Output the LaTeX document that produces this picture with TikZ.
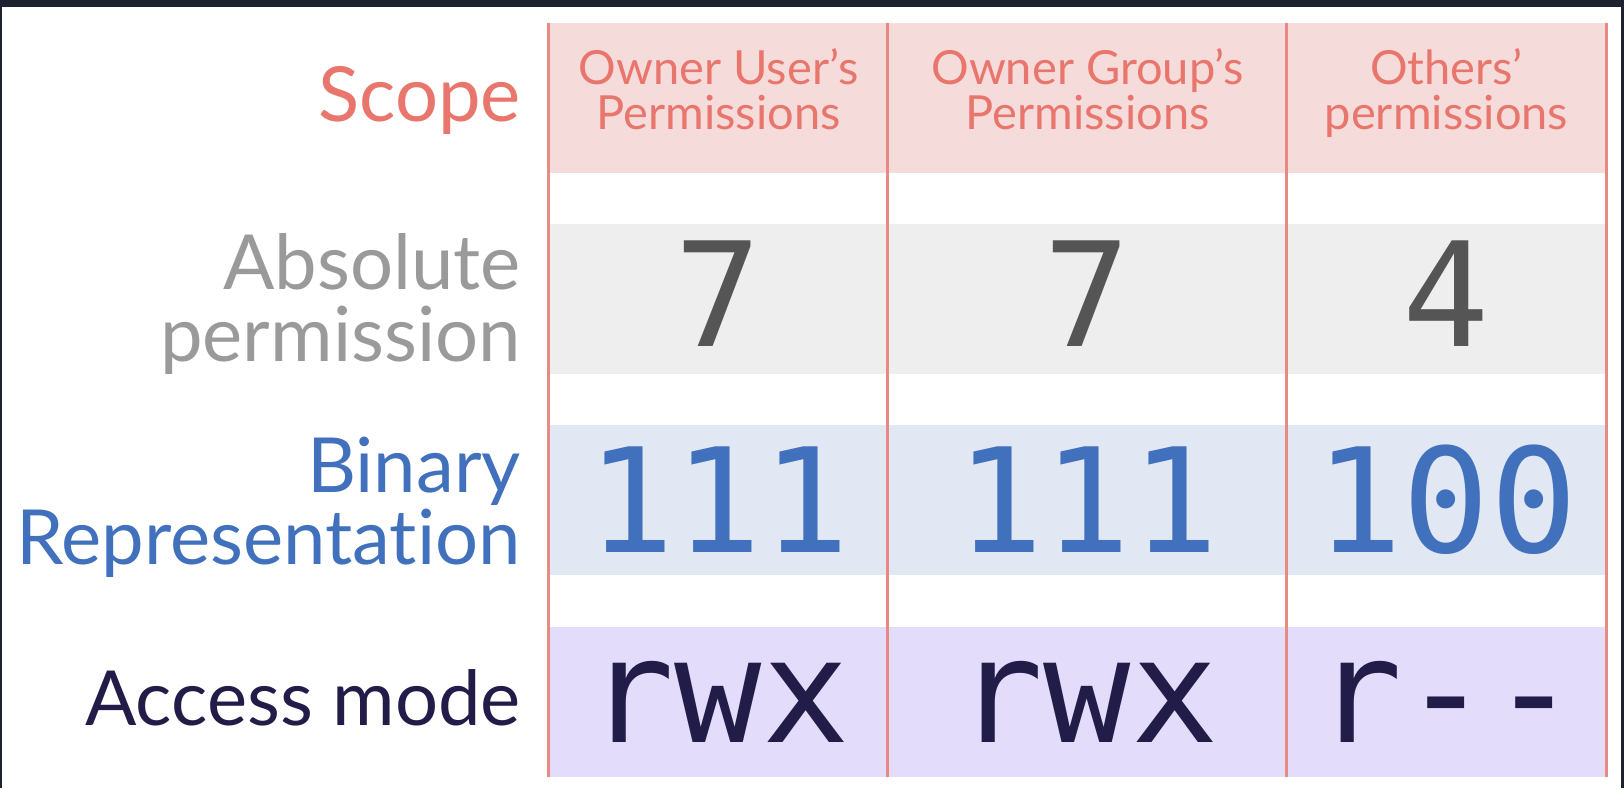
\documentclass[tikz,border=0pt]{standalone}
\usepackage{fontspec}
\setmainfont{Lato}[Ligatures=NoCommon]
\newfontfamily\codefont{DejaVu Sans Mono}
\definecolor{framedark}{HTML}{1D2130}
\definecolor{scopered}{HTML}{E8766C}
\definecolor{scopefill}{HTML}{F6DBDB}
\definecolor{gridline}{HTML}{E88A84}
\definecolor{absgray}{HTML}{9A9A9A}
\definecolor{absfill}{HTML}{EEEEEE}
\definecolor{digitgray}{HTML}{555555}
\definecolor{binblue}{HTML}{4170BD}
\definecolor{binfill}{HTML}{E1E8F4}
\definecolor{modedark}{HTML}{221D48}
\definecolor{modefill}{HTML}{E3DCFA}

\begin{document}
\begin{tikzpicture}[x=1pt,y=-1pt,
    tcell/.style={inner sep=0pt,minimum height=150pt},
    headtext/.style={text=scopered,align=center,font=\fontsize{47}{45}\selectfont},
    cellval/.style={font=\codefont\fontsize{145}{145}\selectfont},
    rowlabel/.style={anchor=east,inner sep=0pt,align=right,font=\fontsize{76}{72}\selectfont},
    sepline/.style={draw=gridline,line width=3pt}]
                    \useasboundingbox (0,0) rectangle (1624,788);
                    \fill[framedark] (0,0) rectangle (1624,788);
                    \fill[white] (2,7) rectangle (1621,788);

                    \node[tcell,headtext,minimum width=339pt,fill=scopefill] (h1) at (718.5,98) {Owner User’s\\Permissions\rule[-18pt]{0pt}{18pt}};
                    \node[tcell,headtext,minimum width=399pt,fill=scopefill] (h2) at (1087.5,98) {Owner Group’s\\Permissions\rule[-18pt]{0pt}{18pt}};
                    \node[tcell,headtext,minimum width=319pt,fill=scopefill] (h3) at (1446.5,98) {Others’\\permissions\rule[-18pt]{0pt}{18pt}};

                    \node[tcell,cellval,text=digitgray,minimum width=339pt,fill=absfill] (a1) at (718.5,299) {\raisebox{10pt}{7}};
                    \node[tcell,cellval,text=digitgray,minimum width=399pt,fill=absfill] (a2) at (1087.5,299) {\raisebox{10pt}{7}};
                    \node[tcell,cellval,text=digitgray,minimum width=319pt,fill=absfill] (a3) at (1446.5,299) {\raisebox{10pt}{4}};

                    \node[tcell,cellval,text=binblue,minimum width=339pt,fill=binfill] (b1) at (718.5,500) {111};
                    \node[tcell,cellval,text=binblue,minimum width=399pt,fill=binfill] (b2) at (1087.5,500) {111};
                    \node[tcell,cellval,text=binblue,minimum width=319pt,fill=binfill] (b3) at (1446.5,500) {100};

                    \node[tcell,cellval,text=modedark,minimum width=339pt,fill=modefill] (m1) at (718.5,702) {rwx};
                    \node[tcell,cellval,text=modedark,minimum width=399pt,fill=modefill] (m2) at (1087.5,702) {rwx};
                    \node[tcell,cellval,text=modedark,minimum width=319pt,fill=modefill] (m3) at (1446.5,702) {r-\kern0pt-};

                    \draw[sepline] (h1.north west) -- (m1.south west);
                    \draw[sepline] (h2.north west) -- (m2.south west);
                    \draw[sepline] (h3.north west) -- (m3.south west);
                    \draw[sepline] (h3.north east) -- (m3.south east);

                    \node[rowlabel,text=scopered] (lscope) at (521,100) {Scope};
                    \node[rowlabel,text=absgray] (labs) at (521,304) {Absolute\\permission};
                    \node[rowlabel,text=binblue] (lbin) at (521,507) {Binary\\Representation};
                    \node[rowlabel,text=modedark] (lmode) at (521,698) {Access mode};
\end{tikzpicture}
\end{document}
